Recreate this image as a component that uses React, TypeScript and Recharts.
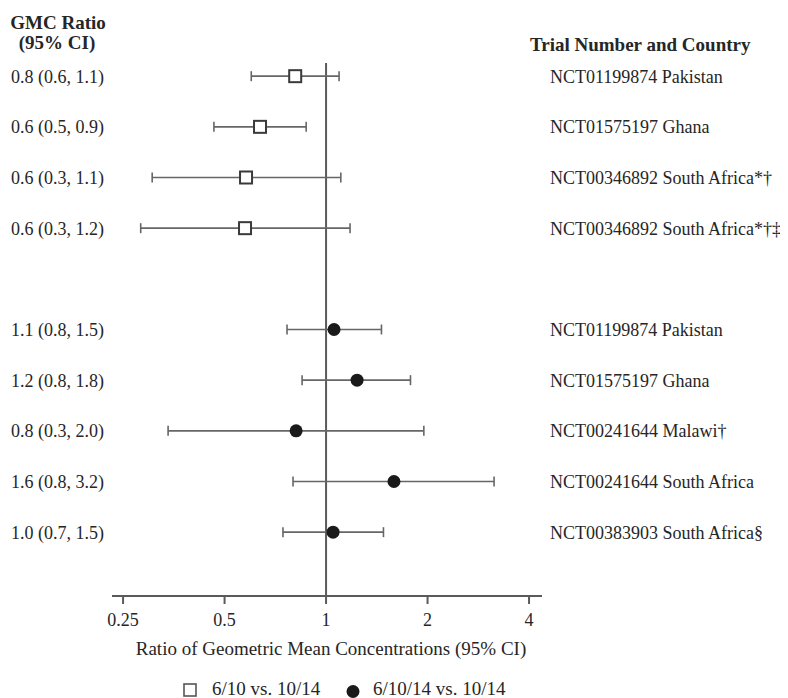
import React from 'react';
import { ScatterChart, Scatter, XAxis, YAxis, ErrorBar, ReferenceLine } from 'recharts';

const FONT = '"Liberation Serif", "Times New Roman", serif';
const TEXT = '#262626';
const LINE = '#5a5a5a';

// Series names
const seriesNames = ['6/10 vs. 10/14', '6/10/14 vs. 10/14'];

// Group A: 6/10 vs. 10/14 (rows 0-3)
const rowsA = [0, 1, 2, 3];
const gmcA = [0.81, 0.637, 0.579, 0.575];
const loA = [0.6, 0.465, 0.305, 0.282];
const hiA = [1.093, 0.873, 1.106, 1.178];
const labelsA = ['0.8 (0.6, 1.1)', '0.6 (0.5, 0.9)', '0.6 (0.3, 1.1)', '0.6 (0.3, 1.2)'];
const trialsA = [
  'NCT01199874 Pakistan',
  'NCT01575197 Ghana',
  'NCT00346892 South Africa*†',
  'NCT00346892 South Africa*†‡',
];

// Group B: 6/10/14 vs. 10/14 (rows 5-9)
const rowsB = [5, 6, 7, 8, 9];
const gmcB = [1.056, 1.236, 0.815, 1.59, 1.049];
const loB = [0.766, 0.849, 0.34, 0.798, 0.745];
const hiB = [1.46, 1.78, 1.95, 3.15, 1.48];
const labelsB = ['1.1 (0.8, 1.5)', '1.2 (0.8, 1.8)', '0.8 (0.3, 2.0)', '1.6 (0.8, 3.2)', '1.0 (0.7, 1.5)'];
const trialsB = [
  'NCT01199874 Pakistan',
  'NCT01575197 Ghana',
  'NCT00241644 Malawi†',
  'NCT00241644 South Africa',
  'NCT00383903 South Africa§',
];

const xTicks = [0.25, 0.5, 1, 2, 4];
const xTickLabels = ['0.25', '0.5', '1', '2', '4'];
const xTitle = 'Ratio of Geometric Mean Concentrations (95% CI)';
const leftHeader = ['GMC Ratio', '(95% CI)'];
const rightHeader = 'Trial Number and Country';

const dataA = rowsA.map((row, i) => ({ x: gmcA[i], y: row, err: [gmcA[i] - loA[i], hiA[i] - gmcA[i]] }));
const dataB = rowsB.map((row, i) => ({ x: gmcB[i], y: row, err: [gmcB[i] - loB[i], hiB[i] - gmcB[i]] }));

const leftLabelMap: Record<number, string> = {};
const rightLabelMap: Record<number, string> = {};
rowsA.forEach((r, i) => { leftLabelMap[r] = labelsA[i]; rightLabelMap[r] = trialsA[i]; });
rowsB.forEach((r, i) => { leftLabelMap[r] = labelsB[i]; rightLabelMap[r] = trialsB[i]; });
const yTicks = [...rowsA, ...rowsB];

const Y_DOMAIN: [number, number] = [-0.26, 10.26];
const X_DOMAIN: [number, number] = [0.2318, 4.37];

const SquareShape = (props: any) => {
  const { cx, cy } = props;
  return <rect x={cx - 6} y={cy - 6} width={12} height={12} fill="#fff" stroke="#3a3a3a" strokeWidth={2} />;
};
const DotShape = (props: any) => {
  const { cx, cy } = props;
  return <circle cx={cx} cy={cy} r={6.5} fill="#1a1a1a" />;
};

export default function App() {
  return (
    <div style={{ position: 'relative', width: 780, height: 690, fontFamily: FONT }}>
      <ScatterChart
        width={780}
        height={690}
        margin={{ top: 55, right: 0, bottom: 43, left: 0 }}
        style={{ overflow: 'visible' }}
      >
        <XAxis
          type="number"
          dataKey="x"
          scale="log"
          domain={X_DOMAIN}
          allowDataOverflow
          ticks={xTicks}
          interval={0}
          tickFormatter={(v: number) => xTickLabels[xTicks.indexOf(v)] ?? String(v)}
          height={59}
          tickSize={8}
          tickMargin={9}
          axisLine={{ stroke: LINE, strokeWidth: 2 }}
          tickLine={{ stroke: LINE, strokeWidth: 2 }}
          tick={{ fill: TEXT, fontSize: 18, fontFamily: FONT }}
          label={{ value: xTitle, position: 'insideBottom', offset: 0, dx: 4, fill: TEXT, fontSize: 19, fontFamily: FONT }}
        />
        <YAxis
          yAxisId="l"
          type="number"
          dataKey="y"
          domain={Y_DOMAIN}
          allowDataOverflow
          reversed
          ticks={yTicks}
          interval={0}
          width={104}
          axisLine={false}
          tickLine={false}
          tickFormatter={(v: number) => leftLabelMap[v] ?? ''}
          tick={{ fill: TEXT, fontSize: 18, fontFamily: FONT }}
        />
        <YAxis
          yAxisId="r"
          orientation="right"
          type="number"
          domain={Y_DOMAIN}
          allowDataOverflow
          reversed
          ticks={yTicks}
          interval={0}
          width={246}
          axisLine={false}
          tickLine={false}
          tickFormatter={(v: number) => rightLabelMap[v] ?? ''}
          tick={{ fill: TEXT, fontSize: 18, fontFamily: FONT, textAnchor: 'start' }}
        />
        <ReferenceLine yAxisId="l" x={1} stroke={LINE} strokeWidth={2} />
        <Scatter yAxisId="l" name={seriesNames[0]} data={dataA} shape={SquareShape} isAnimationActive={false}>
          <ErrorBar dataKey="err" direction="x" width={5} stroke="#666" strokeWidth={1.6} />
        </Scatter>
        <Scatter yAxisId="l" name={seriesNames[1]} data={dataB} shape={DotShape} isAnimationActive={false}>
          <ErrorBar dataKey="err" direction="x" width={5} stroke="#666" strokeWidth={1.6} />
        </Scatter>
      </ScatterChart>
      <svg
        width={780}
        height={690}
        style={{ position: 'absolute', left: 0, top: 0, pointerEvents: 'none', overflow: 'visible' }}
      >
        <text x={50} y={21} textAnchor="middle" fontWeight="bold" fontSize={19} fill={TEXT} fontFamily={FONT}>
          {leftHeader[0]}
        </text>
        <text x={49} y={41} textAnchor="middle" fontWeight="bold" fontSize={19} fill={TEXT} fontFamily={FONT}>
          {leftHeader[1]}
        </text>
        <text x={522} y={43} textAnchor="start" fontWeight="bold" fontSize={19} fill={TEXT} fontFamily={FONT}>
          {rightHeader}
        </text>
        <rect x={176} y={676} width={12} height={12} fill="#fff" stroke="#555" strokeWidth={1.6} />
        <text x={204} y={687} fontSize={19} fill={TEXT} fontFamily={FONT}>{seriesNames[0]}</text>
        <circle cx={345} cy={683.5} r={6.5} fill="#1a1a1a" />
        <text x={365} y={687} fontSize={19} fill={TEXT} fontFamily={FONT}>{seriesNames[1]}</text>
      </svg>
    </div>
  );
}
